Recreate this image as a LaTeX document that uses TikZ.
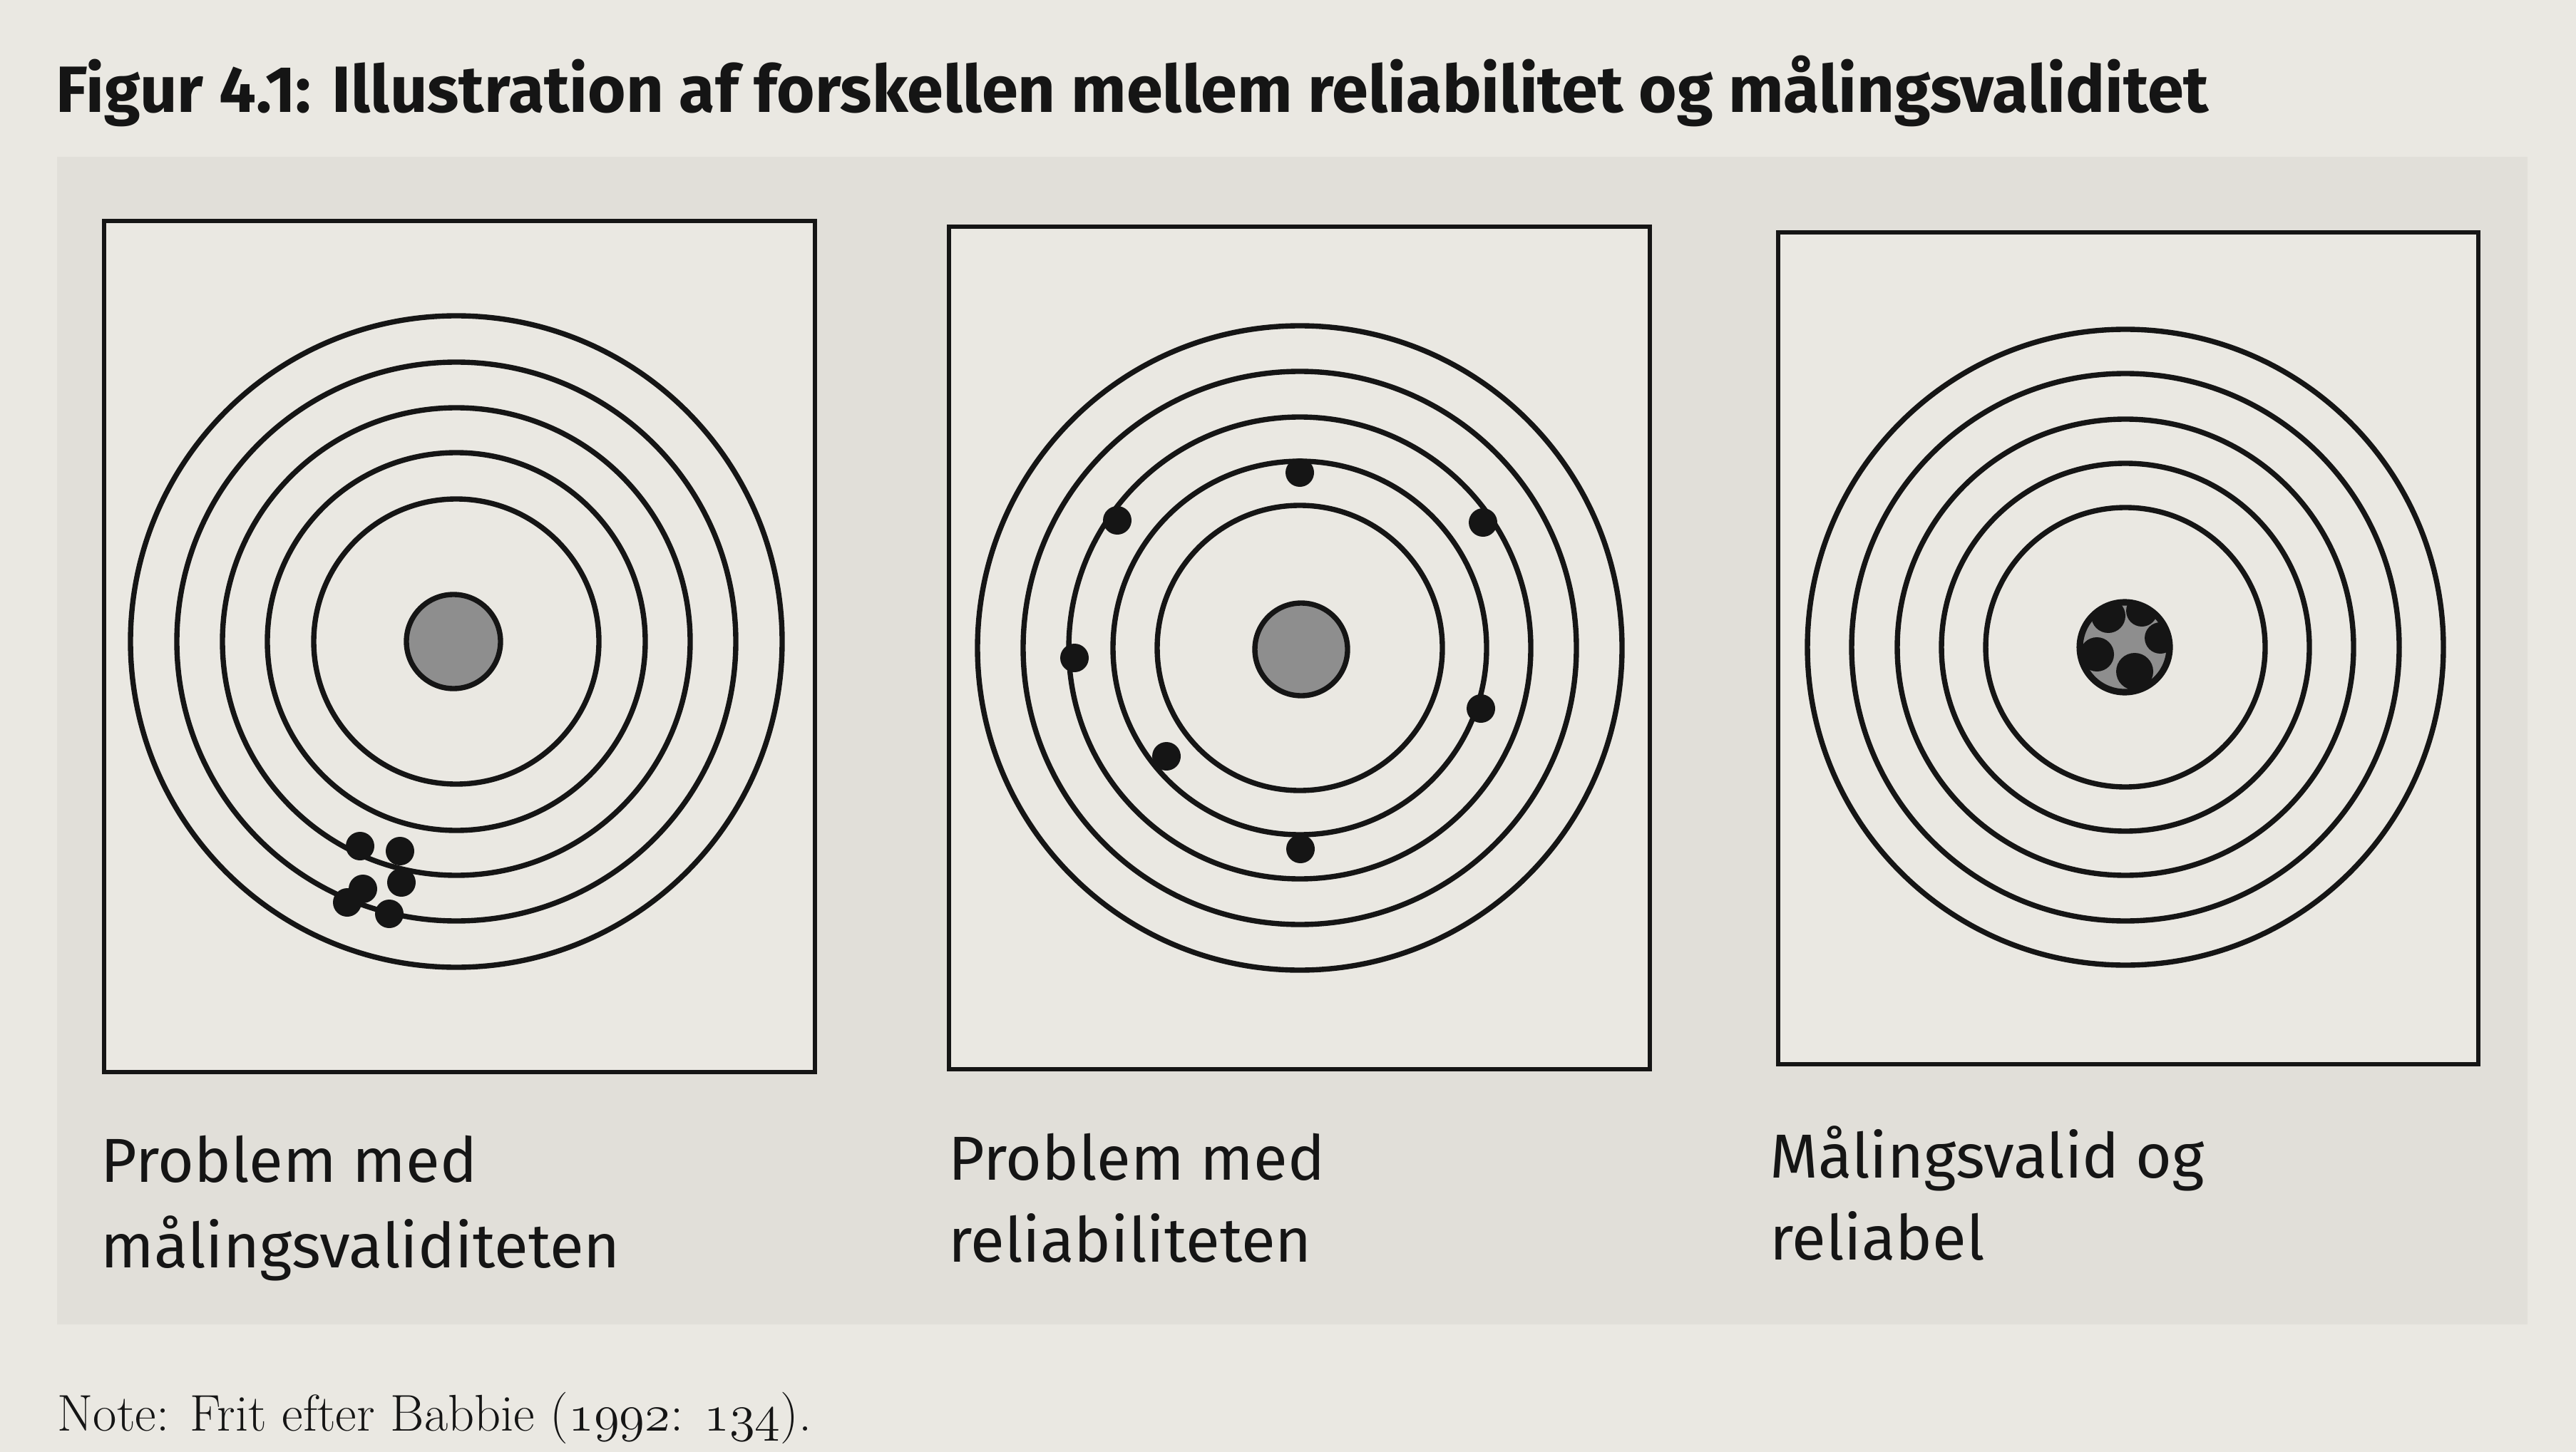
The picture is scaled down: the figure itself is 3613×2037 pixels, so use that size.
\documentclass[tikz,border=0pt]{standalone}
\usepackage{fontspec}
\newfontfamily\figsans{Fira Sans}
\usetikzlibrary{positioning}
\newcommand\oldnum[1]{{\fontencoding{OML}\fontfamily{cmm}\fontseries{m}\fontshape{it}\selectfont #1}}
\definecolor{paper}{HTML}{EAE8E2}
\definecolor{band}{HTML}{E1DFD9}
\definecolor{bull}{HTML}{8E8E8E}
\definecolor{ink}{HTML}{151515}
\tikzset{
  ring/.style={line width=2.1pt, draw=ink},
  frame/.style={line width=1.8pt, draw=ink, fill=paper},
  bullseye/.style={line width=2.1pt, draw=ink, fill=bull},
  hit/.style={fill=ink},
  caption/.style={font=\figsans\fontsize{24.8}{30}\selectfont, anchor=base west, inner sep=0pt, text=ink},
}
\begin{document}
\begin{tikzpicture}[x=0.01cm, y=-0.01cm]
% page and grey band
\fill[paper] (0,0) rectangle (3613,2037);
\useasboundingbox (0,0) rectangle (3613,2037);
\fill[band] (80,220) rectangle (3545,1858);

\node[caption, font=\figsans\bfseries\fontsize{26.1}{30}\selectfont] (title) at (78,158)
  {Figur 4.1: Illustration af forskellen mellem reliabilitet og målingsvaliditet};

% panel 1: problem med maalingsvaliditeten
\filldraw[frame] (146,310) rectangle (1143,1504);
\foreach \r in {457,392,328,265,200}
  \draw[ring] (640,900) circle (\r);
\filldraw[bullseye] (636,900) circle (66);
\fill[hit] (505,1187) circle (20);
\fill[hit] (561,1194) circle (20);
\fill[hit] (563,1238) circle (20);
\fill[hit] (509,1247) circle (20);
\fill[hit] (487,1266) circle (20);
\fill[hit] (546,1282) circle (20);

% panel 2: problem med reliabiliteten
\filldraw[frame] (1331,318) rectangle (2314,1500);
\foreach \r in {452,388,324,262,200}
  \draw[ring] (1823,909) circle (\r);
\filldraw[bullseye] (1825,911) circle (65);
\fill[hit] (1823,663) circle (20);
\fill[hit] (1567,730) circle (20);
\fill[hit] (2080,733) circle (20);
\fill[hit] (1507,923) circle (20);
\fill[hit] (2077,994) circle (20);
\fill[hit] (1636,1061) circle (20);
\fill[hit] (1824,1191) circle (20);

% panel 3: maalingsvalid og reliabel
\filldraw[frame] (2494,326) rectangle (3476,1493);
\foreach \r in {446,384,320,258,196}
  \draw[ring] (2981,908) circle (\r);
\fill[bull] (2980,908) circle (65);
\begin{scope}
  \clip (2980,908) circle (65);
  \fill[hit] (2957,864) circle (24);
  \fill[hit] (3004,857) circle (22);
  \fill[hit] (3030,895) circle (22);
  \fill[hit] (2941,918) circle (24);
  \fill[hit] (2994,942) circle (26);
\end{scope}
\draw[ink, line width=2.6pt] (2980,908) circle (63);

% captions
\node[caption] (capA) at (141,1658) {Problem med};
\node[caption] (capAb) at (141,1778) {målingsvaliditeten};
\node[caption] (capB) at (1330,1655) {Problem med};
\node[caption] (capBb) at (1330,1770) {reliabiliteten};
\node[caption] (capC) at (2482,1652) {Målingsvalid og};
\node[caption] (capCb) at (2482,1767) {reliabel};

\node[anchor=base west, inner sep=0pt, text=ink, font=\fontsize{20.6}{24}\selectfont] (note) at (80,2007)
  {Note: Frit efter Babbie (\oldnum{1992}: \oldnum{134}).};
\end{tikzpicture}
\end{document}
